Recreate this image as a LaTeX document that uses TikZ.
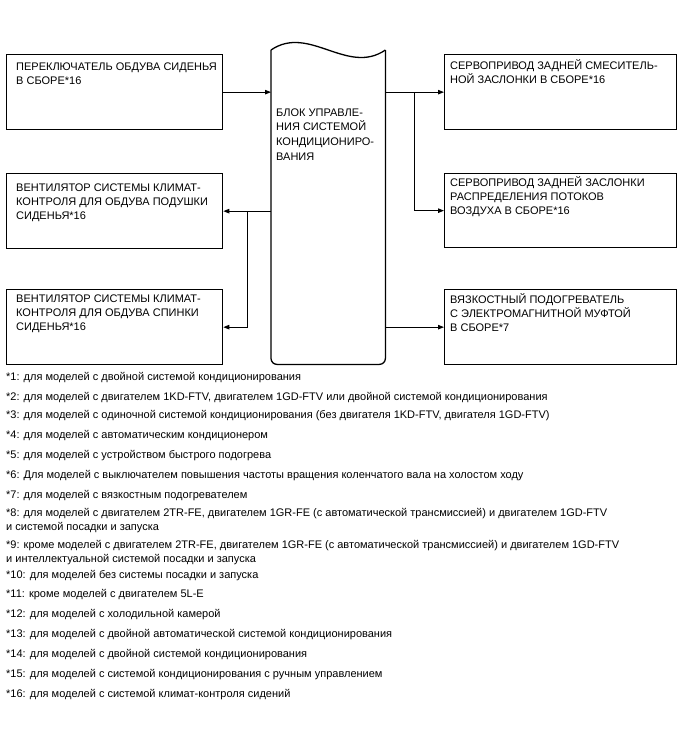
\documentclass[tikz,border=0pt]{standalone}
\usepackage{fontspec}
\setmainfont{Liberation Sans}
\usetikzlibrary{arrows.meta,calc}
\newcommand{\capstrut}{\rule{0pt}{11pt}}

\begin{document}
\begin{tikzpicture}[x=1pt,y=-1pt,
 box/.style={draw,line width=1.3pt,minimum width=216pt,minimum height=75pt,anchor=north west,inner sep=0pt},
 rbox/.style={box,minimum width=232pt},
 lbl/.style={anchor=north west,inner sep=0pt,align=left,font=\fontsize{11}{14}\selectfont},
 note/.style={anchor=north west,inner sep=0pt,align=left,font=\fontsize{11}{14}\selectfont},
 arr/.style={-{Triangle[length=6pt,width=4.5pt]},line width=1pt}]
\useasboundingbox (0,0) rectangle (688,755);
\node[box] (seatsw) at (6,54) {};
\node[box] (cushfan) at (6,173) {};
\node[box] (backfan) at (6,289) {};
\node[rbox] (rmix) at (444,54) {};
\node[rbox,minimum height=74pt] (rdist) at (444,173) {};
\node[rbox] (vheat) at (444,289) {};
\node[minimum width=114pt,minimum height=314pt,anchor=north west,inner sep=0pt] (ecu) at (271,50) {};
\draw[line width=1.3pt] (ecu.north west) .. controls ($(ecu.north west)+(38,-26)$) and ($(ecu.north east)+(-38,26)$) .. (ecu.north east);
\draw[line width=1.3pt,rounded corners=6pt] (ecu.north west) -- (ecu.south west) -- (ecu.south east) -- (ecu.north east);
\node[lbl] (seatswtxt) at ([xshift=10pt,yshift=-5pt]seatsw.north west) {\capstrut ПЕРЕКЛЮЧАТЕЛЬ ОБДУВА СИДЕНЬЯ\\В СБОРЕ*16};
\node[lbl] (cushfantxt) at ([xshift=10pt,yshift=-7pt]cushfan.north west) {\capstrut ВЕНТИЛЯТОР СИСТЕМЫ КЛИМАТ-\\КОНТРОЛЯ ДЛЯ ОБДУВА ПОДУШКИ\\СИДЕНЬЯ*16};
\node[lbl] (backfantxt) at ([xshift=10pt,yshift=-2pt]backfan.north west) {\capstrut ВЕНТИЛЯТОР СИСТЕМЫ КЛИМАТ-\\КОНТРОЛЯ ДЛЯ ОБДУВА СПИНКИ\\СИДЕНЬЯ*16};
\node[lbl] (rmixtxt) at ([xshift=6pt,yshift=-4pt]rmix.north west) {\capstrut СЕРВОПРИВОД ЗАДНЕЙ СМЕСИТЕЛЬ-\\НОЙ ЗАСЛОНКИ В СБОРЕ*16};
\node[lbl] (rdisttxt) at ([xshift=6pt,yshift=-2pt]rdist.north west) {\capstrut СЕРВОПРИВОД ЗАДНЕЙ ЗАСЛОНКИ\\РАСПРЕДЕЛЕНИЯ ПОТОКОВ\\ВОЗДУХА В СБОРЕ*16};
\node[lbl] (vheattxt) at ([xshift=6pt,yshift=-3pt]vheat.north west) {\capstrut ВЯЗКОСТНЫЙ ПОДОГРЕВАТЕЛЬ\\С ЭЛЕКТРОМАГНИТНОЙ МУФТОЙ\\В СБОРЕ*7};
\node[lbl,font=\fontsize{11}{14.7}\selectfont] (ecutxt) at ([xshift=5pt,yshift=-55pt]ecu.north west) {\capstrut БЛОК УПРАВЛЕ-\\НИЯ СИСТЕМОЙ\\КОНДИЦИОНИРО-\\ВАНИЯ};
\coordinate (jl) at ($(cushfan.east)!0.5!(cushfan.east -| ecu.west)$);
\coordinate (jr) at ($(rmix.west -| ecu.east)!0.5!(rmix.west)$);
\draw[arr] (seatsw.east) -- (seatsw.east -| ecu.west);
\draw[arr] (cushfan.east -| ecu.west) -- (cushfan.east);
\draw[arr] (jl) |- (backfan.east);
\draw[arr] (rmix.west -| ecu.east) -- (rmix.west);
\draw[arr] (jr) |- (rdist.west);
\draw[arr] (vheat.west -| ecu.east) -- (vheat.west);
\foreach \i/\y/\txt in {1/369/{*1: для моделей с двойной системой кондиционирования},
 2/389/{*2: для моделей с двигателем 1KD-FTV, двигателем 1GD-FTV или двойной системой кондиционирования},
 3/407/{*3: для моделей с одиночной системой кондиционирования (без двигателя 1KD-FTV, двигателя 1GD-FTV)},
 4/427/{*4: для моделей с автоматическим кондиционером},
 5/447/{*5: для моделей с устройством быстрого подогрева},
 6/467/{*6: Для моделей с выключателем повышения частоты вращения коленчатого вала на холостом ходу},
 7/487/{*7: для моделей с вязкостным подогревателем},
 8/505/{*8: для моделей с двигателем 2TR-FE, двигателем 1GR-FE (с автоматической трансмиссией) и двигателем 1GD-FTV\\и системой посадки и запуска},
 9/537/{*9: кроме моделей с двигателем 2TR-FE, двигателем 1GR-FE (с автоматической трансмиссией) и двигателем 1GD-FTV\\и интеллектуальной системой посадки и запуска},
 10/567/{*10: для моделей без системы посадки и запуска},
 11/586/{*11: кроме моделей с двигателем 5L-E},
 12/606/{*12: для моделей с холодильной камерой},
 13/626/{*13: для моделей с двойной автоматической системой кондиционирования},
 14/646/{*14: для моделей с двойной системой кондиционирования},
 15/666/{*15: для моделей с системой кондиционирования с ручным управлением},
 16/686/{*16: для моделей с системой климат-контроля сидений}}{
 \node[note] (fn\i) at (6,\y) {\capstrut\txt};
}
\end{tikzpicture}
\end{document}
